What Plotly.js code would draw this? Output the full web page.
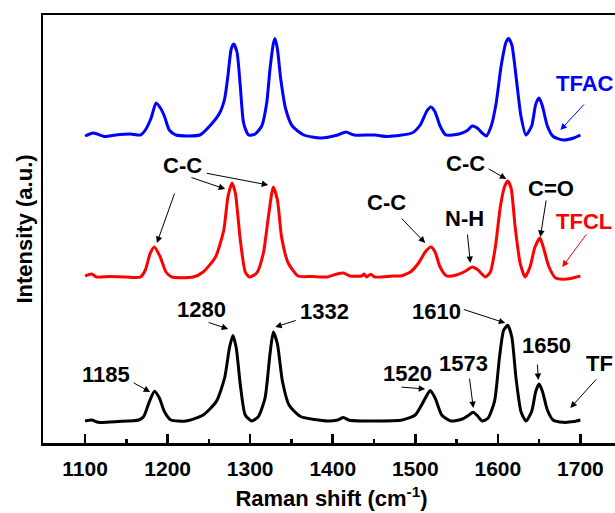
<!DOCTYPE html>
<html>
<head>
<meta charset="utf-8">
<script src="https://cdn.plot.ly/plotly-3.0.1.min.js"></script>
<style>
html,body{margin:0;padding:0;overflow:hidden;background:#fff;}
#chart{width:625px;height:513px;}
</style>
</head>
<body>
<div id="chart"></div>
<script>
// Raman shift (cm-1) and relative intensities (a.u., vertically offset spectra)
const tfX = [1100,1108,1116,1140,1165,1171,1178,1184,1190,1196,1204,1222,1243,1259,1269,1275,1279,1283,1288,1294,1302,1310,1318,1324,1328,1333,1339,1347,1361,1394,1406,1413,1420,1451,1484,1500,1510,1518,1524,1532,1543,1557,1565,1570,1575,1581,1588,1596,1602,1607,1612,1617,1622,1628,1634,1641,1646,1650,1654,1660,1667,1679,1692,1700];
const tfY = [22,23,20.7,21.5,23,26.5,41.6,51.8,45,31.5,23,22,28,41.6,65,95.7,107.5,95.7,58.5,28,22,26.5,45,89,111,99,62,38,26.5,22,23,25.4,22.7,22,23,28,41.6,52.5,45,28,22,24,28,30.8,27.5,22,24.7,41.6,85.6,112.6,117.7,105.8,65,31.5,22,31.5,51.8,59,51.8,33,23,20.7,21.4,23];

const tfclX = [1100,1108,1114,1130,1150,1167,1173,1179,1184,1191,1198,1205,1231,1243,1258,1268,1273,1278,1282,1288,1294,1299,1308,1316,1322,1328,1333,1338,1346,1358,1375,1393,1405,1413,1421,1435,1438,1441,1446,1451,1473,1482,1494,1504,1512,1519,1524,1530,1538,1550,1561,1569,1576,1585,1591,1597,1603,1608,1612,1616,1621,1627,1633,1639,1645,1651,1655,1662,1670,1684,1700];
const tfclY = [167,169,166,166.5,166,166,173,190,196,186,171,166,166,171,186,213,246,260,250,203,171,166,170,190,226,256,243,206,180,167,166.5,166,169,170,167,167,169,166,168.7,166,167,167,171,180,191,196,191,176,167,168,172,176,173,166,171,196,236,256,262,255,216,180,166,176,196,205,196,176,165,164,167];

const tfacX = [1100,1110,1124,1137,1155,1167,1173,1180,1186,1192,1196,1202,1210,1239,1251,1263,1269,1273,1277,1280,1284,1288,1292,1298,1306,1314,1320,1324,1328,1330,1333,1337,1343,1351,1365,1386,1406,1416,1426,1451,1467,1496,1506,1514,1519,1524,1530,1537,1553,1563,1569,1575,1581,1586,1592,1598,1604,1610,1613,1617,1622,1628,1634,1641,1646,1650,1654,1660,1667,1679,1692,1700];
const tfacY = [307,310,306.5,308,309,308,313,325,340,334,327,313,308,308,317,330,344,367,394,399,391,357,320,308,309,317,340,374,399,404.5,394,364,334,317,308,305,308,311,308,308,306.5,310,318,332,336,331,317,308,309,312.6,317,315,310,307,317,340,377,401,404.5,398,367,327,308,317,339,345,337,317,306.5,303,305,308];

const seriesNames = ['TF','TFCL','TFAC'];
const seriesColors = ['#000000','#ff0000','#0000ff'];

// Peak labels: [text, x, y] and arrows: [tailX, tailY, headX, headY]
const labelTexts = ['1185','1280','1332','1520','1573','1610','1650','TF','C-C','C-C','N-H','C-C','C=O','TFCL','TFAC'];
const labelX = [1125.5,1240.6,1389.7,1490,1558,1525.5,1658.8,1723,1217.6,1464.8,1559.4,1560.6,1664.8,1704.8,1706];
const labelY = [69,134,132,70,80,132,98,80,278,241,225,280,255,222,360];
const labelColors = ['#000','#000','#000','#000','#000','#000','#000','#000','#000','#000','#000','#000','#000','#ff0000','#0000ff'];

const arrowTailX = [1157,1247.9,1357,1481.5,1565.5,1557,1647.9,1720.6,1209,1227,1245.5,1481.8,1563,1587,1658.8,1708.5,1706];
const arrowTailY = [61,121,123,56,66,134,80,65,251,266,270,226,210,275,244,210,340];
const arrowHeadX = [1178.8,1273.3,1330.3,1512,1570.3,1609,1649,1687.9,1187,1269.7,1321.8,1512,1566.7,1610.3,1651.5,1678,1675.8];
const arrowHeadY = [51,114,116,54,35,120,63,35,200,254,258,200,180,264,206,176,313];
const arrowColors = ['#000','#000','#000','#000','#000','#000','#000','#000','#000','#000','#000','#000','#000','#000','#000','#ff0000','#0000ff'];

const FONT = 'Liberation Sans, Arial, sans-serif';

const traces = [[tfX,tfY],[tfclX,tfclY],[tfacX,tfacY]].map((d,i)=>({
  x:d[0], y:d[1], type:'scatter', mode:'lines', name:seriesNames[i],
  line:{color:seriesColors[i], width:3, shape:'spline', smoothing:0.6},
  hoverinfo:'skip', showlegend:false
}));

const annotations = [];
labelTexts.forEach((t,i)=>{
  annotations.push({x:labelX[i], y:labelY[i], xref:'x', yref:'y', text:t, showarrow:false,
    font:{family:FONT, size:22, weight:'bold', color:labelColors[i]}});
});
arrowTailX.forEach((tx,i)=>{
  annotations.push({x:arrowHeadX[i], y:arrowHeadY[i], xref:'x', yref:'y',
    ax:tx, ay:arrowTailY[i], axref:'x', ayref:'y', text:'', showarrow:true,
    arrowhead:2, arrowsize:1.3, arrowwidth:1, arrowcolor:arrowColors[i], standoff:0});
});

const layout = {
  width:625, height:513,
  margin:{l:43, r:5, t:15, b:70},
  paper_bgcolor:'#ffffff', plot_bgcolor:'#ffffff',
  font:{family:FONT, color:'#000'},
  xaxis:{
    range:[1049,1748], tick0:1100, dtick:100,
    ticks:'inside', ticklen:9, tickwidth:2.5, tickcolor:'#000',
    showline:true, linewidth:2.5, linecolor:'#000', mirror:true,
    showgrid:false, zeroline:false,
    minor:{ticks:'inside', ticklen:4, tickwidth:2.5, dtick:50, tick0:1050, showgrid:false, tickcolor:'#000'},
    tickfont:{family:FONT, size:21, weight:'bold', color:'#000'},
    ticklabelstandoff:5,
    title:{text:'Raman shift (cm<sup>-1</sup>)', font:{family:FONT, size:22, weight:'bold', color:'#000'}, standoff:12},
    automargin:false
  },
  yaxis:{
    range:[0,428], showticklabels:false, ticks:'',
    showline:true, linewidth:2.5, linecolor:'#000', mirror:true,
    showgrid:false, zeroline:false,
    title:{text:'Intensity (a.u.)', font:{family:FONT, size:22, weight:'bold', color:'#000'}, standoff:2},
    automargin:false
  },
  annotations:annotations
};

Plotly.newPlot('chart', traces, layout, {staticPlot:true, displayModeBar:false});
</script>
</body>
</html>
